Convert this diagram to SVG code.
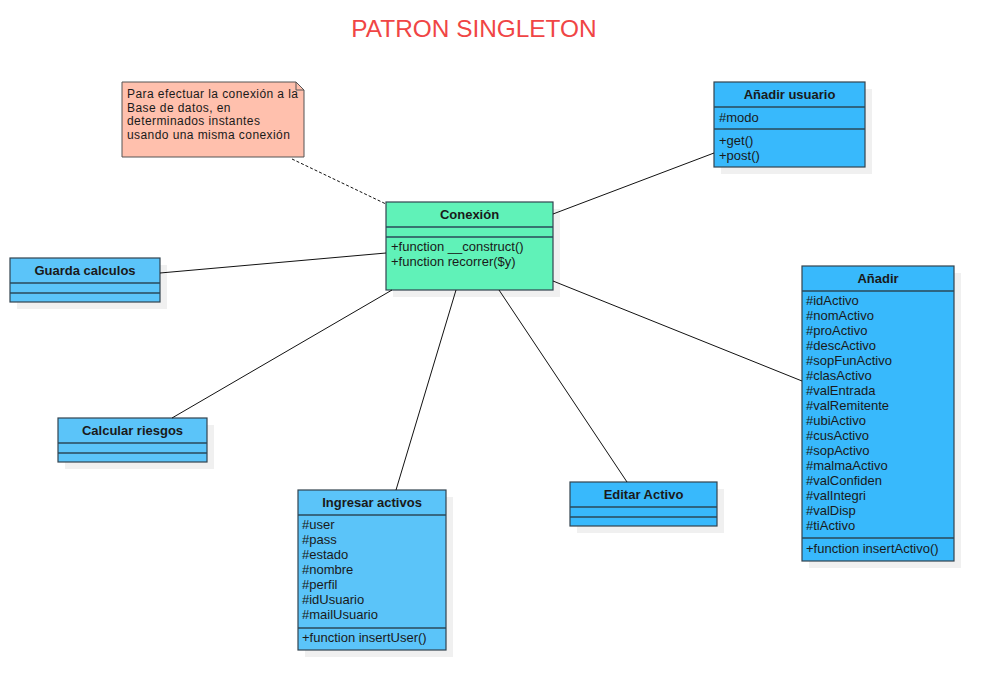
<svg xmlns="http://www.w3.org/2000/svg" width="994" height="690" viewBox="0 0 994 690">
<style>
text{font-family:"Liberation Sans",Arial,sans-serif;font-size:13px;fill:#1a1a1a}
.h{font-weight:bold;text-anchor:middle;font-size:13px}
.n{font-size:12px;letter-spacing:0.42px}
.sh{fill:#f0f0f0}
.box{stroke:#33434f;stroke-width:1.2}
.g{fill:#60f2b8}
.b1{fill:#38b9fc}
.b2{fill:#5bc4f9}
.sep{stroke:#2a4a5a;stroke-width:1.5}
.c{stroke:#111;stroke-width:1;fill:none}
</style>
<rect width="994" height="690" fill="#fff"/>
<text x="474" y="37" text-anchor="middle" style="font-size:24.4px;fill:#f04545">PATRON SINGLETON</text>

<g id="note">
<path d="M122,82 H296 L304,90 V157 H122 Z" fill="#ffc0ad" stroke="#555" stroke-width="1"/>
<path d="M296,82 V90 H304" fill="none" stroke="#555" stroke-width="1"/>
<text class="n" x="127" y="98">Para efectuar la conexión a la</text>
<text class="n" x="127" y="111.5">Base de datos, en</text>
<text class="n" x="127" y="125">determinados instantes</text>
<text class="n" x="127" y="138.5">usando una misma conexión</text>
</g>

<g id="conexion">
<rect class="sh" x="393" y="209" width="167" height="88"/>
<rect class="box g" x="386" y="202" width="167" height="88"/>
<line class="sep" x1="386" y1="227" x2="553" y2="227"/>
<line class="sep" x1="386" y1="237" x2="553" y2="237"/>
<text class="h" x="469.5" y="219">Conexión</text>
<text x="391" y="251">+function __construct()</text>
<text x="391" y="266">+function recorrer($y)</text>
</g>

<g id="anadir-usuario">
<rect class="sh" x="721" y="89" width="151" height="85"/>
<rect class="box b1" x="714" y="82" width="151" height="85"/>
<line class="sep" x1="714" y1="107" x2="865" y2="107"/>
<line class="sep" x1="714" y1="129" x2="865" y2="129"/>
<text class="h" x="789.5" y="99">Añadir usuario</text>
<text x="719" y="122">#modo</text>
<text x="719" y="145">+get()</text>
<text x="719" y="160">+post()</text>
</g>

<g id="anadir">
<rect class="sh" x="809" y="273" width="152" height="295"/>
<rect class="box b1" x="802" y="266" width="152" height="295"/>
<line class="sep" x1="802" y1="291" x2="954" y2="291"/>
<line class="sep" x1="802" y1="538" x2="954" y2="538"/>
<text class="h" x="878" y="283">Añadir</text>
<text x="806" y="305">#idActivo</text>
<text x="806" y="320">#nomActivo</text>
<text x="806" y="335">#proActivo</text>
<text x="806" y="350">#descActivo</text>
<text x="806" y="365">#sopFunActivo</text>
<text x="806" y="380">#clasActivo</text>
<text x="806" y="395">#valEntrada</text>
<text x="806" y="410">#valRemitente</text>
<text x="806" y="425">#ubiActivo</text>
<text x="806" y="440">#cusActivo</text>
<text x="806" y="455">#sopActivo</text>
<text x="806" y="470">#malmaActivo</text>
<text x="806" y="485">#valConfiden</text>
<text x="806" y="500">#valIntegri</text>
<text x="806" y="515">#valDisp</text>
<text x="806" y="530">#tiActivo</text>
<text x="806" y="553">+function insertActivo()</text>
</g>

<g id="guarda-calculos">
<rect class="sh" x="17" y="265" width="150" height="44"/>
<rect class="box b2" x="10" y="258" width="150" height="44"/>
<line class="sep" x1="10" y1="283" x2="160" y2="283"/>
<line class="sep" x1="10" y1="293" x2="160" y2="293"/>
<text class="h" x="85" y="275">Guarda calculos</text>
</g>

<g id="calcular-riesgos">
<rect class="sh" x="65" y="425" width="149" height="44"/>
<rect class="box b2" x="58" y="418" width="149" height="44"/>
<line class="sep" x1="58" y1="443" x2="207" y2="443"/>
<line class="sep" x1="58" y1="453" x2="207" y2="453"/>
<text class="h" x="132.5" y="435">Calcular riesgos</text>
</g>

<g id="ingresar-activos">
<rect class="sh" x="305" y="497" width="148" height="160"/>
<rect class="box b2" x="298" y="490" width="148" height="160"/>
<line class="sep" x1="298" y1="515" x2="446" y2="515"/>
<line class="sep" x1="298" y1="628" x2="446" y2="628"/>
<text class="h" x="372" y="507">Ingresar activos</text>
<text x="302" y="529">#user</text>
<text x="302" y="544">#pass</text>
<text x="302" y="559">#estado</text>
<text x="302" y="574">#nombre</text>
<text x="302" y="589">#perfil</text>
<text x="302" y="604">#idUsuario</text>
<text x="302" y="619">#mailUsuario</text>
<text x="302" y="642">+function insertUser()</text>
</g>

<g id="editar-activo">
<rect class="sh" x="577" y="489" width="147" height="44"/>
<rect class="box b1" x="570" y="482" width="147" height="44"/>
<line class="sep" x1="570" y1="507" x2="717" y2="507"/>
<line class="sep" x1="570" y1="517" x2="717" y2="517"/>
<text class="h" x="643.5" y="499">Editar Activo</text>
</g>

<g id="connectors">
<line class="c" x1="292" y1="159" x2="386" y2="204" stroke-dasharray="3,2"/>
<line class="c" x1="553" y1="214" x2="714" y2="153"/>
<line class="c" x1="160" y1="273" x2="386" y2="253"/>
<line class="c" x1="172" y1="418" x2="392" y2="290"/>
<line class="c" x1="456" y1="290" x2="396" y2="490" stroke-width="1.4"/>
<line class="c" x1="499" y1="290" x2="627" y2="482"/>
<line class="c" x1="553" y1="281" x2="802" y2="381"/>
</g>
</svg>
